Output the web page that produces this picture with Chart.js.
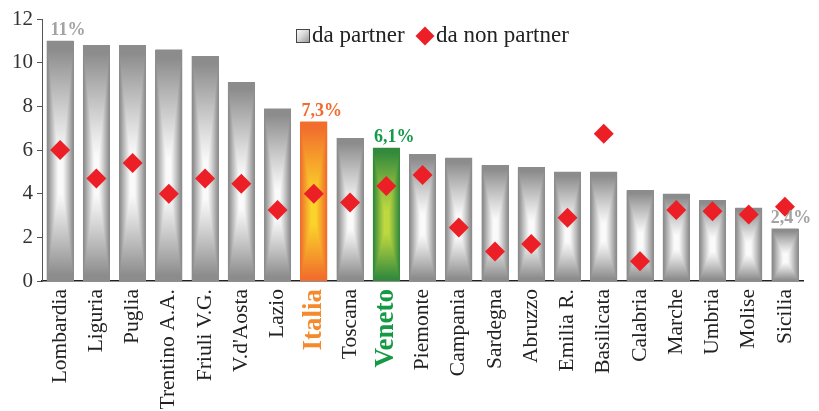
<!DOCTYPE html>
<html>
<head>
<meta charset="utf-8">
<script src="https://cdn.jsdelivr.net/npm/chart.js@4/dist/chart.umd.min.js"></script>
<style>
html,body{margin:0;padding:0;background:#fff;}
#wrap{position:relative;width:819px;height:411px;}
</style>
</head>
<body>
<div id="wrap"><canvas id="c" width="819" height="411"></canvas></div>
<script>
const categories = ['Lombardia','Liguria','Puglia','Trentino A.A.','Friuli V.G.',"V.d'Aosta",'Lazio','Italia','Toscana','Veneto','Piemonte','Campania','Sardegna','Abruzzo','Emilia R.','Basilicata','Calabria','Marche','Umbria','Molise','Sicilia'];
const daPartner = [11.0,10.8,10.8,10.6,10.3,9.1,7.9,7.3,6.55,6.1,5.8,5.65,5.3,5.2,5.0,5.0,4.15,4.0,3.7,3.35,2.4];
const daNonPartner = [6.0,4.7,5.4,4.0,4.7,4.45,3.25,4.0,3.6,4.35,4.85,2.45,1.35,1.7,2.9,6.75,0.9,3.25,3.2,3.05,3.4];
const yTicks = [0,2,4,6,8,10,12];
const valueLabels = ['11%',null,null,null,null,null,null,'7,3%',null,'6,1%',null,null,null,null,null,null,null,null,null,null,'2,4%'];
const seriesNames = ['da partner','da non partner'];

const FONT = '"Liberation Serif", "Times New Roman", serif';
const ITALIA = 7, VENETO = 9;
const palette = {
  gray:   {edge:[140,140,140], center:[250,250,250], text:'#a3a3a3', tick:'#222'},
  orange: {edge:[241,110,44],  center:[250,212,42],  text:'#f26a2e', tick:'#f58a2c'},
  green:  {edge:[52,138,60],   center:[190,216,64],  text:'#17994a', tick:'#149a44'}
};
function schemeFor(i){ return i===ITALIA ? palette.orange : (i===VENETO ? palette.green : palette.gray); }
function rgb(a){ return 'rgb('+a[0]+','+a[1]+','+a[2]+')'; }

// shading of bars: rectangular path gradient painted over each bar element
const barShade = {
  id:'barShade',
  afterDatasetDraw(chart, args){
    if (args.index !== 0) return;
    const ctx = chart.ctx;
    args.meta.data.forEach((el, i) => {
      const w = Math.round(el.width), x0 = Math.round(el.x - el.width/2);
      const y0 = Math.round(el.y), h = Math.round(el.base) - y0;
      if (w <= 0 || h <= 0) return;
      const sc = schemeFor(i);
      const off = document.createElement('canvas');
      off.width = w; off.height = h;
      const octx = off.getContext('2d');
      const img = octx.createImageData(w, h);
      const cx = (w-1)/2, cy = h*0.56;
      for (let y=0; y<h; y++){
        const dv = y < cy ? (cy - y)/cy : (y - cy)/(h - cy);
        for (let x=0; x<w; x++){
          const dh = Math.abs(x - cx)/(w/2);
          let d = Math.max(dh, dv);
          let t = Math.min(1, Math.max(0, (d - 0.16)/0.78));
          t = Math.pow(t, 1.1);
          const p = (y*w + x)*4;
          for (let k=0;k<3;k++) img.data[p+k] = Math.round(sc.center[k] + (sc.edge[k]-sc.center[k])*t);
          img.data[p+3] = 255;
        }
      }
      octx.putImageData(img,0,0);
      ctx.drawImage(off, x0, y0);
    });
  }
};

const valueLabelPlugin = {
  id:'valueLabels',
  afterDatasetsDraw(chart){
    const ctx = chart.ctx;
    const meta = chart.getDatasetMeta(0);
    ctx.save();
    ctx.font = 'bold 18px ' + FONT;
    ctx.textAlign = 'center';
    ctx.textBaseline = 'alphabetic';
    valueLabels.forEach((txt, i) => {
      if (!txt) return;
      const el = meta.data[i];
      ctx.fillStyle = schemeFor(i).text;
      const dx = (i === categories.length-1) ? 6 : 8;
      ctx.fillText(txt, el.x + dx, el.y - 6);
    });
    ctx.restore();
  }
};

const legendPlugin = {
  id:'customLegend',
  afterDraw(chart){
    const ctx = chart.ctx;
    ctx.save();
    const bx = 296, by = 29, bs = 13;
    const g = ctx.createLinearGradient(bx, by, bx+bs, by+bs);
    g.addColorStop(0, '#ffffff'); g.addColorStop(0.5,'#d8d8d8'); g.addColorStop(1,'#9a9a9a');
    ctx.fillStyle = g; ctx.fillRect(bx, by, bs, bs);
    ctx.strokeStyle = '#444'; ctx.lineWidth = 1; ctx.strokeRect(bx+0.5, by+0.5, bs, bs);
    ctx.font = '23px ' + FONT;
    ctx.fillStyle = '#222';
    ctx.textBaseline = 'alphabetic';
    ctx.textAlign = 'left';
    ctx.fillText(seriesNames[0], 312, 42);
    const dx = 425, dy = 36, r = 9.5;
    ctx.fillStyle = '#ec1f26';
    ctx.beginPath(); ctx.moveTo(dx, dy-r); ctx.lineTo(dx+r, dy); ctx.lineTo(dx, dy+r); ctx.lineTo(dx-r, dy); ctx.closePath(); ctx.fill();
    ctx.fillStyle = '#222';
    ctx.fillText(seriesNames[1], 436, 42);
    ctx.restore();
  }
};

new Chart(document.getElementById('c'), {
  data: {
    labels: categories,
    datasets: [
      {
        type:'bar', label: seriesNames[0], data: daPartner, order: 2,
        backgroundColor: categories.map((_, i) => rgb(schemeFor(i).edge)),
        borderWidth: 0, barPercentage: 0.74, categoryPercentage: 1.0
      },
      {
        type:'line', label: seriesNames[1], data: daNonPartner, order: 1,
        showLine: false, pointStyle: 'rectRot', pointRadius: 10, pointHoverRadius: 10,
        pointBackgroundColor: '#ec1f26', pointBorderWidth: 0, borderColor: '#ec1f26'
      }
    ]
  },
  options: {
    responsive: false,
    animation: false,
    devicePixelRatio: 1,
    layout: { padding: { top: 19, right: 8, left: 0, bottom: 0 } },
    plugins: { legend: { display: false }, tooltip: { enabled: false } },
    scales: {
      x: {
        type: 'category',
        grid: { display: false, drawTicks: false },
        border: { display: true, color: '#222', width: 1.5 },
        ticks: {
          autoSkip: false, minRotation: 90, maxRotation: 90, padding: 8,
          font: (c) => (c.index===ITALIA||c.index===VENETO)
            ? { family: FONT, size: 27, weight: 'bold' }
            : { family: FONT, size: 21.5, weight: 'normal' },
          color: (c) => schemeFor(c.index).tick
        },
        afterFit: (s) => { s.height = 130; }
      },
      y: {
        min: 0, max: 12,
        afterBuildTicks: (s) => { s.ticks = yTicks.map(v => ({ value: v })); },
        grid: { drawOnChartArea: false, drawTicks: true, tickLength: 5, color: '#555' },
        border: { display: true, color: '#555', width: 1 },
        ticks: { color: '#333', padding: 4, font: { family: FONT, size: 21 } },
        afterFit: (s) => { s.width = 42; }
      }
    }
  },
  plugins: [barShade, valueLabelPlugin, legendPlugin]
});
</script>
</body>
</html>
